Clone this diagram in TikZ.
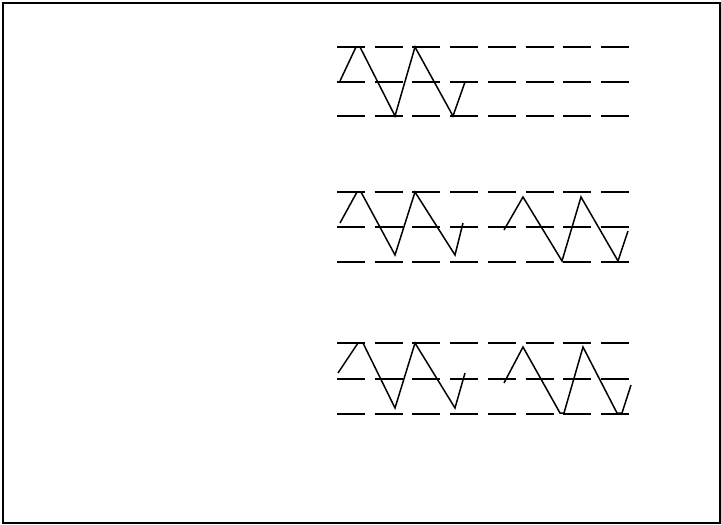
\documentclass[tikz,border=0pt]{standalone}
\begin{document}
\begin{tikzpicture}[x=1pt,y=-1pt,
  staff/.style={line width=1.8pt, dash pattern=on 28pt off 9.7pt},
  wave/.style={line width=1.5pt, line join=miter},
  frame/.style={line width=2pt}]
\useasboundingbox (0,0) rectangle (721,525);
\draw[frame] (2.5,2.5) rectangle (719.5,523);
% staff lines
\foreach \y in {47,82,116, 192,227,262, 343,379,414}
  \draw[staff] (337,\y) -- (630,\y);
% row 1
\draw[wave] (340,81) -- (356,47) -- (360,47) -- (395,116) -- (415,47) -- (453,116) -- (465,82);
% row 2
\draw[wave] (340,223) -- (357,192) -- (361,192) -- (395,255) -- (415,192) -- (455,255) -- (463,223);
\draw[wave] (504,230) -- (523,197) -- (562,261) -- (581,197) -- (618,261) -- (628,231);
% row 3
\draw[wave] (338,373) -- (358,343) -- (363,343) -- (395,408) -- (415,343) -- (455,408) -- (465,373);
\draw[wave] (504,383) -- (523,347) -- (560,413) -- (564,413) -- (583,347) -- (617,413) -- (622,413) -- (631,385);
\end{tikzpicture}
\end{document}
